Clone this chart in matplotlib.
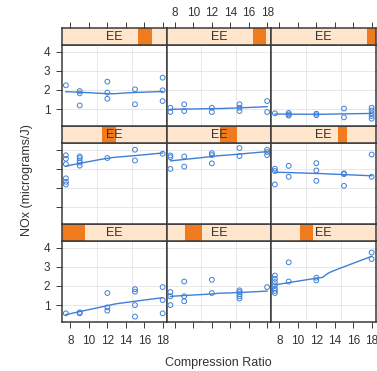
import numpy as np
import matplotlib
matplotlib.use("Agg")
import matplotlib.pyplot as plt
from matplotlib.patches import Rectangle

plt.rcParams['font.family'] = ['Liberation Sans', 'DejaVu Sans']

# ---------------- data ----------------
# compression ratio (C) and NOx for each of the 9 EE shingle levels
c_L1 = [7.5, 9, 9, 12, 12, 12, 15, 15, 15, 15, 18, 18, 18]
nox_L1 = [0.57, 0.57, 0.62, 1.63, 0.88, 0.71, 1.83, 1.70, 1.00, 0.40, 1.94, 1.26, 0.57]

c_L2 = [7.5, 7.5, 7.5, 9, 9, 9, 12, 12, 15, 15, 15, 15, 15, 18]
nox_L2 = [1.68, 1.46, 1.00, 2.23, 1.46, 1.20, 2.32, 1.63, 1.77, 1.68, 1.57, 1.46, 1.34, 1.94]

c_L3 = [7.5, 7.5, 7.5, 7.5, 7.5, 7.5, 7.5, 9, 9, 12, 12, 18, 18]
nox_L3 = [2.54, 2.37, 2.20, 2.03, 1.86, 1.74, 1.63, 3.23, 2.23, 2.43, 2.29, 3.74, 3.40]

c_L4 = [7.5, 7.5, 7.5, 7.5, 7.5, 7.5, 9, 9, 9, 9, 9, 12, 15, 15, 18]
nox_L4 = [3.70, 3.52, 3.24, 2.50, 2.32, 2.18, 3.64, 3.55, 3.42, 3.32, 3.16, 3.56, 3.99, 3.43, 3.78]

c_L5 = [7.5, 7.5, 7.5, 9, 9, 12, 12, 12, 15, 15, 18, 18, 18]
nox_L5 = [3.69, 3.60, 2.99, 3.64, 3.11, 3.81, 3.71, 3.28, 4.08, 3.66, 3.99, 3.87, 3.71]

c_L6 = [7.5, 7.5, 7.5, 9, 9, 12, 12, 12, 15, 15, 15, 18, 18]
nox_L6 = [3.00, 2.88, 2.18, 3.15, 2.58, 3.29, 2.91, 2.37, 2.76, 2.72, 2.11, 3.74, 2.58]

c_L7 = [7.5, 9, 9, 9, 12, 12, 12, 15, 15, 18, 18, 18]
nox_L7 = [2.24, 1.94, 1.82, 1.19, 2.43, 1.86, 1.54, 2.03, 1.25, 2.64, 1.98, 1.42]

c_L8 = [7.5, 7.5, 9, 9, 12, 12, 15, 15, 15, 18, 18]
nox_L8 = [1.07, 0.85, 1.25, 0.90, 1.07, 0.85, 1.25, 1.07, 0.90, 1.42, 0.85]

c_L9 = [7.5, 9, 9, 9, 12, 12, 15, 15, 18, 18, 18, 18, 18]
nox_L9 = [0.78, 0.80, 0.72, 0.66, 0.76, 0.68, 1.03, 0.57, 1.07, 0.93, 0.78, 0.64, 0.50]

# shingle intervals of EE (equivalence ratio) and its overall range
ee_range = (0.535, 1.232)
ee_intervals = [(0.535, 0.688), (0.660, 0.772), (0.730, 0.814),
                (0.800, 0.897), (0.890, 1.002), (0.981, 1.044),
                (1.044, 1.134), (1.114, 1.197), (1.176, 1.232)]

x_ticks = [8, 10, 12, 14, 16, 18]
y_ticks = [1, 2, 3, 4]
strip_label = "EE"
x_label = "Compression Ratio"
y_label = "NOx (micrograms/J)"

panels_c = [c_L1, c_L2, c_L3, c_L4, c_L5, c_L6, c_L7, c_L8, c_L9]
panels_nox = [nox_L1, nox_L2, nox_L3, nox_L4, nox_L5, nox_L6, nox_L7, nox_L8, nox_L9]


def loess_fit(x, y, span=1.0, iterations=4, n_eval=50, enlarge=1.1):
    x = np.asarray(x, float)
    y = np.asarray(y, float)
    n = len(x)
    q = min(max(int(np.floor(n * span)), 2), n)
    xs = np.linspace(x.min(), x.max(), n_eval)
    rw = np.ones(n)

    def local(x0, robw):
        d = np.abs(x - x0)
        h = np.sort(d)[q - 1]
        h = max(h, 1e-9) * enlarge
        w = np.clip(1 - (d / h) ** 3, 0, None) ** 3 * robw
        W = w.sum()
        if W <= 0:
            return np.nan
        xm = (w * x).sum() / W
        ym = (w * y).sum() / W
        sxx = (w * (x - xm) ** 2).sum()
        b = (w * (x - xm) * (y - ym)).sum() / sxx if sxx > 1e-12 else 0.0
        return ym + b * (x0 - xm)

    for _ in range(iterations):
        fit = np.array([local(xi, rw) for xi in x])
        res = y - fit
        s = np.median(np.abs(res))
        if s <= 1e-12:
            break
        u = res / (6 * s)
        rw = np.where(np.abs(u) < 1, (1 - u ** 2) ** 2, 0.0)
    ys = np.array([local(xv, rw) for xv in xs])
    return xs, ys


W, H = 377, 371
fig = plt.figure(figsize=(W / 100, H / 100), dpi=100)

col_left = [62, 166.5, 271]
col_w = 104.5
row_top = [28, 126, 224]
strip_h = 17
plot_h = 81

xlim = (7.08, 18.42)
ylim = (0.12, 4.34)
pt_col = '#3f7fd6'
frame_col = '#3a3a3a'
strip_bg = '#ffe5cc'
strip_fg = '#f07a1e'
fs = 8.5


def fr(x, y, w, h):
    return [x / W, 1 - (y + h) / H, w / W, h / H]


for idx in range(9):
    row = 2 - idx // 3   # row 0 = top
    col = idx % 3
    x0 = col_left[col]
    ytop = row_top[row]

    ax = fig.add_axes(fr(x0, ytop + strip_h, col_w, plot_h))
    ax.set_xlim(*xlim)
    ax.set_ylim(*ylim)
    for v in (1 / 3, 2 / 3):
        ax.axvline(xlim[0] + v * (xlim[1] - xlim[0]), color='#e4e4e4', lw=0.6, zorder=0)
    for yy in y_ticks:
        ax.axhline(yy, color='#e4e4e4', lw=0.6, zorder=0)
    cx = panels_c[idx]
    ny = panels_nox[idx]
    ax.scatter(cx, ny, s=12, facecolors='none', edgecolors=pt_col, linewidths=0.7, zorder=3)
    xs, ys = loess_fit(cx, ny)
    ax.plot(xs, ys, color=pt_col, lw=1.0, zorder=2)

    for sp in ax.spines.values():
        sp.set_color(frame_col)
        sp.set_linewidth(1.1)

    ax.set_xticks(x_ticks)
    ax.set_yticks(y_ticks)
    ax.tick_params(direction='out', length=4.5, width=0.7, color=frame_col,
                   labelsize=fs, labelcolor='#333333')
    ax.tick_params(axis='x', pad=5)
    ax.tick_params(axis='y', pad=4)
    if row == 2:
        ax.tick_params(axis='x', bottom=True, top=False, labelbottom=(col != 1))
    else:
        ax.tick_params(axis='x', bottom=False, top=False, labelbottom=False)
    ax.tick_params(axis='y', left=(col == 0), right=(col == 2),
                   labelleft=(col == 0 and row != 1), labelright=False)

    # strip
    sax = fig.add_axes(fr(x0, ytop, col_w, strip_h))
    sax.set_xlim(*xlim)
    sax.set_ylim(0, 1)
    sax.add_patch(Rectangle((0, 0), 1, 1, transform=sax.transAxes,
                            facecolor=strip_bg, edgecolor='none', zorder=0))
    lo, hi = ee_intervals[idx]
    f0 = (lo - ee_range[0]) / (ee_range[1] - ee_range[0])
    f1 = (hi - ee_range[0]) / (ee_range[1] - ee_range[0])
    sax.add_patch(Rectangle((f0, 0), f1 - f0, 1, transform=sax.transAxes,
                            facecolor=strip_fg, edgecolor='none', zorder=1))
    sax.text(0.5, 0.45, strip_label, transform=sax.transAxes, ha='center', va='center',
             fontsize=fs + 0.5, color='#333333', zorder=2)
    for sp in sax.spines.values():
        sp.set_color(frame_col)
        sp.set_linewidth(1.1)
    sax.set_yticks([])
    sax.set_xticks(x_ticks)
    if row == 0:
        sax.tick_params(axis='x', direction='out', length=4.5, width=0.7, color=frame_col,
                        bottom=False, top=True, labelbottom=False,
                        labeltop=(col == 1), labelsize=fs, labelcolor='#333333', pad=2)
    else:
        sax.tick_params(axis='x', bottom=False, top=False, labelbottom=False, labeltop=False)

fig.text((62 + 375.5) / 2 / W, 1 - 363 / H, x_label, ha='center', va='center',
         fontsize=fs + 0.5, color='#333333')
fig.text(27 / W, 1 - 180 / H, y_label, ha='center', va='center', rotation=90,
         fontsize=fs + 0.5, color='#333333')

fig.savefig('out.png', dpi=100)
